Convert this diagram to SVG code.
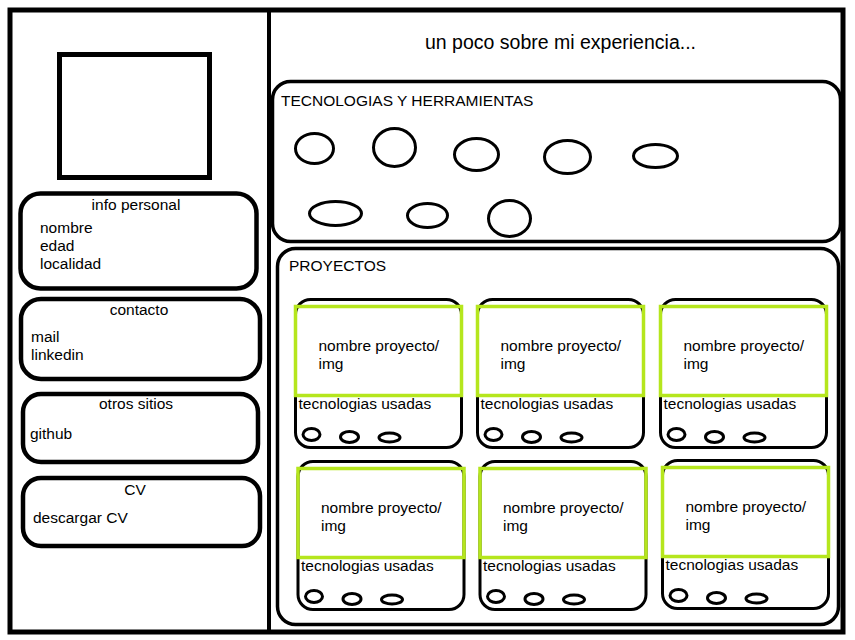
<svg xmlns="http://www.w3.org/2000/svg" width="855" height="640" viewBox="0 0 855 640">
<style>
text{font-family:"Liberation Sans",Arial,sans-serif;font-size:15.5px;fill:#000}
.title{font-size:19.5px}
.thick{fill:none;stroke:#000;stroke-width:4.5}
.box{fill:none;stroke:#000;stroke-width:3.5}
.card{fill:#fff;stroke:#000;stroke-width:3}
.img{fill:none;stroke:#b5e61d;stroke-width:3.5}
.dot{fill:none;stroke:#000;stroke-width:3}
.mid{text-anchor:middle}
</style>
<defs>
<g id="cardTpl">
<rect class="card" x="0" y="0" width="166" height="148" rx="15"/>
<rect class="img" x="0" y="7" width="166" height="89"/>
<text x="23" y="51">nombre proyecto/</text>
<text x="23" y="69">img</text>
<text x="3" y="109">tecnologias usadas</text>
<ellipse class="dot" cx="16" cy="135" rx="8.5" ry="6"/>
<ellipse class="dot" cx="54" cy="137.5" rx="9" ry="5.5"/>
<ellipse class="dot" cx="94" cy="138" rx="10.5" ry="4.5"/>
</g>
</defs>
<rect width="855" height="640" fill="#fff"/>
<g id="frame">
<rect x="10" y="10" width="833" height="622" fill="none" stroke="#000" stroke-width="5"/>
<line x1="269" y1="10" x2="269" y2="632" stroke="#000" stroke-width="4"/>
</g>
<g id="photo"><rect x="59.5" y="54.5" width="150" height="123" fill="none" stroke="#000" stroke-width="5"/></g>
<g id="info-personal">
<rect class="thick" x="20.5" y="193.5" width="236" height="95" rx="20"/>
<text class="mid" x="136" y="210">info personal</text>
<text x="40" y="233">nombre</text>
<text x="40" y="251">edad</text>
<text x="40" y="269">localidad</text>
</g>
<g id="contacto">
<rect class="thick" x="21" y="299" width="239" height="80" rx="20"/>
<text class="mid" x="139" y="315">contacto</text>
<text x="31" y="342">mail</text>
<text x="31" y="360">linkedin</text>
</g>
<g id="otros-sitios">
<rect class="thick" x="23" y="394" width="235" height="68" rx="18"/>
<text class="mid" x="136" y="409">otros sitios</text>
<text x="30" y="439">github</text>
</g>
<g id="cv">
<rect class="thick" x="23" y="478" width="237" height="68" rx="18"/>
<text class="mid" x="135" y="495">CV</text>
<text x="33" y="523">descargar CV</text>
</g>
<g id="titulo"><text class="title" x="425" y="49">un poco sobre mi experiencia...</text></g>
<g id="tecnologias">
<rect class="box" x="272.5" y="81.5" width="568" height="160" rx="18"/>
<text x="281" y="106">TECNOLOGIAS Y HERRAMIENTAS</text>
<ellipse class="dot" cx="314.5" cy="148.5" rx="19" ry="15"/>
<ellipse class="dot" cx="394.5" cy="147.5" rx="21" ry="19"/>
<ellipse class="dot" cx="476.5" cy="154.5" rx="22" ry="16"/>
<ellipse class="dot" cx="567.5" cy="157" rx="23" ry="16.5"/>
<ellipse class="dot" cx="655.5" cy="156" rx="22" ry="11.5"/>
<ellipse class="dot" cx="335.5" cy="213.5" rx="26" ry="12"/>
<ellipse class="dot" cx="427.5" cy="215.5" rx="20" ry="12"/>
<ellipse class="dot" cx="509.5" cy="218.5" rx="21" ry="18"/>
</g>
<g id="proyectos">
<rect class="box" x="277.5" y="248.5" width="561" height="376" rx="18"/>
<text x="289" y="271">PROYECTOS</text>
</g>
<g id="proyecto-1"><use href="#cardTpl" x="295.5" y="299.5"/></g>
<g id="proyecto-2"><use href="#cardTpl" x="477.5" y="299.5"/></g>
<g id="proyecto-3"><use href="#cardTpl" x="660.5" y="299.5"/></g>
<g id="proyecto-4"><use href="#cardTpl" x="298" y="461.5"/></g>
<g id="proyecto-5"><use href="#cardTpl" x="480" y="461.5"/></g>
<g id="proyecto-6"><use href="#cardTpl" x="662.5" y="460.5"/></g>
<g id="connectors"/>
</svg>
